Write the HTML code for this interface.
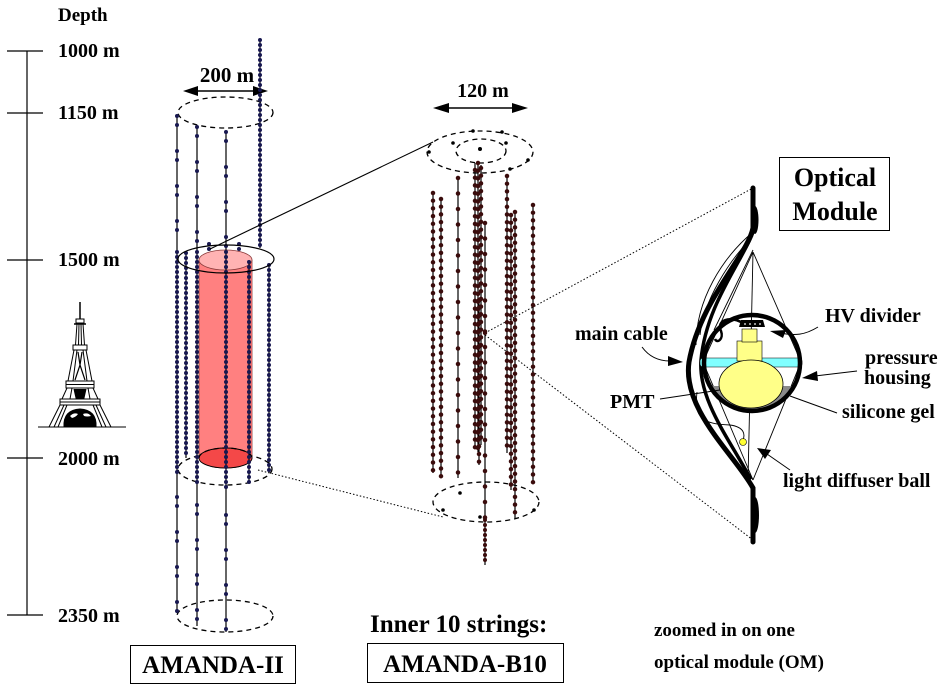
<!DOCTYPE html>
<html><head><meta charset="utf-8"><style>
html,body{margin:0;padding:0;background:#fff;}
svg{display:block;}
text{font-family:"Liberation Serif",serif;font-weight:bold;fill:#000;}
.ln{stroke:#000;stroke-width:1.2;fill:none;}
.d2{stroke:#181850;stroke-width:4;stroke-linecap:round;stroke-dasharray:0 5;fill:none;}
.p2{stroke:#181850;stroke-width:4;stroke-linecap:round;stroke-dasharray:0 9 0 26;fill:none;}
.db{stroke:#3a0c0c;stroke-width:4.5;stroke-linecap:round;stroke-dasharray:0 7.7;fill:none;}
.ds{stroke:#3a0c0c;stroke-width:4.5;stroke-linecap:round;stroke-dasharray:0 15.5;fill:none;}
.dash{stroke:#000;stroke-width:1.3;fill:none;stroke-dasharray:5 4;}
.dot{stroke:#000;stroke-width:1;fill:none;stroke-dasharray:1.5 2;}
.th{stroke:#000;stroke-width:0.9;fill:none;}
</style></head><body>
<svg width="948" height="691" viewBox="0 0 948 691" xmlns="http://www.w3.org/2000/svg">
<rect width="948" height="691" fill="#fff"/>

<!-- Depth scale -->
<text x="58" y="21" font-size="19">Depth</text>
<line x1="27" y1="51" x2="27" y2="615" stroke="#000" stroke-width="1.2"/>
<g stroke="#000" stroke-width="1.2">
<line x1="7" y1="51" x2="43" y2="51"/>
<line x1="7" y1="113" x2="43" y2="113"/>
<line x1="7" y1="260" x2="43" y2="260"/>
<line x1="7" y1="458" x2="43" y2="458"/>
<line x1="7" y1="615" x2="43" y2="615"/>
</g>
<g font-size="20">
<text x="58" y="57">1000 m</text>
<text x="58" y="119">1150 m</text>
<text x="58" y="266">1500 m</text>
<text x="58" y="465">2000 m</text>
<text x="58" y="622">2350 m</text>
</g>

<!-- Eiffel tower -->
<g stroke="#000" fill="none" stroke-width="1">
<line x1="38" y1="427" x2="126" y2="427"/>
<line x1="80" y1="302" x2="80" y2="320" stroke-width="1.5"/>
<rect x="76" y="319" width="8" height="4" fill="#fff"/>
<line x1="74" y1="324" x2="86" y2="324" stroke-width="1.5"/>
<path d="M77 324 L75.5 345 M83 324 L84.5 345 M79 324 L78.5 345 M81 324 L81.5 345"/>
<rect x="73" y="345" width="14" height="5" fill="#fff"/>
<path d="M74 350 L68 381 M86 350 L92 381 M77 350 L73 381 M83 350 L87 381"/>
<path d="M78 352 L80 365 L82 352 M80 365 L75 380 M80 365 L85 380" stroke-width="1.2"/>
<rect x="66" y="381" width="28" height="7" fill="#fff"/>
<line x1="66" y1="384.5" x2="94" y2="384.5"/>
<path d="M67 388 L62 399 M93 388 L98 399 M72 388 L70 399 M88 388 L90 399"/>
<path d="M74 389 L76 398 L84 398 L86 389" fill="#000"/>
<rect x="60" y="399" width="40" height="6" fill="#fff"/>
<line x1="60" y1="402" x2="100" y2="402"/>
<path d="M60 405 L49 427 M100 405 L111 427 M64 405 L54 427 M96 405 L106 427 M67 405 L58 427 M93 405 L102 427"/>
<path d="M64 427 Q63 410 80 409 Q97 410 96 427 Z" fill="#000"/>
<path d="M70 416 Q74 412 78 414 Q76 417 72 418 Z M83 414 Q88 412 91 416 Q87 417 84 416 Z" fill="#fff" stroke="none"/>
</g>

<!-- AMANDA-II -->
<text x="227" y="82" font-size="21" text-anchor="middle">200 m</text>
<line x1="195" y1="91" x2="256" y2="91" stroke="#000" stroke-width="1.5"/>
<path d="M183 91 L198 86 L198 96 Z M268 91 L253 86 L253 96 Z" fill="#000"/>
<ellipse cx="225.5" cy="112.5" rx="47.5" ry="15.5" class="dash"/>
<ellipse cx="225" cy="469" rx="47" ry="16" class="dash"/>
<ellipse cx="225" cy="616" rx="48" ry="16" class="dash"/>

<!-- cylinder -->
<path d="M199 260 L199 458 A26.5 10 0 0 0 252 458 L252 260 Z" fill="#ff8080" stroke="#8b3a3a" stroke-width="0.8"/>
<rect x="247" y="260" width="5" height="198" fill="#e86a6a"/>
<ellipse cx="225.5" cy="458" rx="26.5" ry="10" fill="#f44848" stroke="#000" stroke-width="0.9"/>
<path d="M199 458 A26.5 10 0 0 1 252 458" class="dash" stroke-width="1"/>
<ellipse cx="225.5" cy="260" rx="26.5" ry="10" fill="#ffb3b3" stroke="#8b3a3a" stroke-width="0.8"/>

<!-- strings AMANDA-II -->
<g class="ln">
<line x1="177" y1="115" x2="177" y2="613"/>
<line x1="197" y1="126" x2="197" y2="626"/>
<line x1="226" y1="131" x2="226" y2="632"/>
<line x1="260" y1="40" x2="260" y2="248"/>
<line x1="186" y1="253" x2="186" y2="458"/>
<line x1="249" y1="262" x2="249" y2="483"/>
<line x1="269" y1="265" x2="269" y2="473"/>
</g>
<path class="p2" d="M177 116 V250 M197 127 V250 M226 132 V250"/>
<path class="p2" d="M177 497 V613 M197 505 V626 M226 515 V632"/>
<path class="d2" d="M177 252 V473 M197 252 V483 M226 252 V488 M260 40 V248 M186 253 V458 M249 262 V483 M269 265 V473 M209 244 V250 M239 244 V250"/>
<ellipse cx="226" cy="259" rx="48" ry="14" fill="none" stroke="#000" stroke-width="1.2"/>

<rect x="130.5" y="645.5" width="165" height="38" fill="none" stroke="#000" stroke-width="1"/>
<text x="213" y="673" font-size="25" text-anchor="middle">AMANDA-II</text>

<!-- connectors -->
<line x1="210" y1="249" x2="433" y2="142" stroke="#000" stroke-width="1.1"/>
<line x1="258" y1="470" x2="443" y2="517" class="dot"/>
<line x1="485" y1="333" x2="753" y2="188" class="dot"/>
<line x1="485" y1="335" x2="753" y2="540" class="dot"/>

<!-- AMANDA-B10 -->
<text x="483" y="97" font-size="20" text-anchor="middle">120 m</text>
<line x1="445" y1="108" x2="516" y2="108" stroke="#000" stroke-width="1.5"/>
<path d="M433 108 L449 103 L449 113 Z M528 108 L512 103 L512 113 Z" fill="#000"/>
<ellipse cx="480" cy="152" rx="53" ry="21" class="dash"/>
<ellipse cx="481" cy="151" rx="25" ry="12" class="dash"/>
<ellipse cx="486" cy="502" rx="53" ry="20" class="dash"/>
<g fill="#000">
<circle cx="480" cy="149" r="2"/><circle cx="429" cy="152" r="1.8"/><circle cx="473" cy="131" r="1.8"/>
<circle cx="502" cy="132" r="1.8"/><circle cx="528" cy="160" r="1.8"/><circle cx="510" cy="169" r="1.8"/>
<circle cx="453" cy="143" r="1.8"/><circle cx="506" cy="143" r="1.8"/><circle cx="460" cy="493" r="1.8"/>
<circle cx="480" cy="517" r="1.8"/><circle cx="534" cy="510" r="1.8"/><circle cx="443" cy="510" r="1.8"/>
</g>
<g class="ln">
<line x1="433" y1="193" x2="433" y2="473"/>
<line x1="441" y1="199" x2="441" y2="477"/>
<line x1="458" y1="178" x2="458" y2="478"/>
<line x1="475" y1="163" x2="475" y2="448"/>
<line x1="478" y1="163" x2="478" y2="452"/>
<line x1="481" y1="165" x2="481" y2="445"/>
<line x1="479" y1="300" x2="479" y2="465"/>
<line x1="485" y1="223" x2="485" y2="565"/>
<line x1="507" y1="176" x2="507" y2="453"/>
<line x1="511" y1="215" x2="511" y2="490"/>
<line x1="515" y1="212" x2="515" y2="518"/>
<line x1="533" y1="205" x2="533" y2="483"/>
</g>
<path class="db" d="M433 193 V473 M441 199 V477 M475 170 V448 M478 163 V452 M481 168 V445 M479 300 V465 M507 176 V453 M511 215 V490 M515 212 V518 M533 205 V483"/>
<path class="ds" d="M458 178 V478 M485 223 V520"/>
<path class="d2" style="stroke:#3a0c0c" d="M485 520 V565"/>
<circle cx="485" cy="333" r="2.2" fill="#3a0c0c"/>

<text x="370" y="632" font-size="25">Inner 10 strings:</text>
<rect x="367.5" y="643.5" width="196" height="39" fill="none" stroke="#000" stroke-width="1"/>
<text x="465" y="672" font-size="25" text-anchor="middle">AMANDA-B10</text>

<text x="654" y="636" font-size="19">zoomed in on one</text>
<text x="654" y="668" font-size="19">optical module (OM)</text>

<!-- Optical Module -->
<rect x="779.5" y="157.5" width="110" height="73" fill="#fff" stroke="#000" stroke-width="1"/>
<text x="835" y="186" font-size="26" text-anchor="middle">Optical</text>
<text x="835" y="220" font-size="26" text-anchor="middle">Module</text>

<!-- thin wires -->
<g class="th">
<path d="M753 252 L703 362 L753 480"/>
<path d="M753 252 L801 362 L753 480"/>
<path d="M753 252 L748 480"/>
<path d="M753 250 L714 330"/>
<path d="M753 236 C 728 262, 704 300, 700 335"/>
<path d="M753 232 C 722 258, 696 300, 696 345"/>
<path d="M697 392 C 694 418, 702 424, 730 425 C 745 427, 745 435, 743 440"/>
<path d="M700 370 C 705 410, 730 440, 753 480"/>
</g>

<!-- thick cable -->
<g fill="none" stroke="#000" stroke-linecap="round">
<path d="M753 188 L753 228 C 748 255, 700 300, 689 362 C 682 410, 735 455, 753 488 L753 542" stroke-width="5"/>
<path d="M753 232 C 742 262, 706 305, 701 360 C 698 400, 730 440, 750 478" stroke-width="3.5"/>
</g>
<ellipse cx="755" cy="220" rx="3.5" ry="14" fill="#000"/>
<ellipse cx="755" cy="515" rx="4" ry="18" fill="#000"/>

<!-- sphere contents -->
<path d="M712 386 L792 386 A46 46 0 0 1 712 386 Z" fill="#8a8a8a"/>
<rect x="700" y="358" width="102" height="9" rx="3" fill="#80ffff" stroke="#000" stroke-width="0.6"/>
<rect x="737" y="341" width="25" height="20" fill="#ffff88" stroke="#000" stroke-width="0.6"/>
<rect x="742" y="329" width="15" height="13" fill="#ffff88" stroke="#000" stroke-width="0.6"/>
<ellipse cx="751" cy="384" rx="32" ry="24" fill="#ffff88" stroke="#000" stroke-width="0.8"/>
<path d="M741 320 L763 320 L765 327 L739 327 Z" fill="#000"/>
<g fill="#fff"><circle cx="745" cy="324" r="0.9"/><circle cx="750" cy="324" r="0.9"/><circle cx="755" cy="324" r="0.9"/><circle cx="760" cy="324" r="0.9"/></g>
<path d="M741 322 C 730 316, 716 320, 721 331 C 724 339, 717 344, 715 339" fill="none" stroke="#000" stroke-width="2.5"/>
<circle cx="752" cy="363" r="48" fill="none" stroke="#000" stroke-width="4.5"/>
<circle cx="743" cy="442" r="3.5" fill="#ffff33" stroke="#000" stroke-width="0.6"/>

<!-- OM labels -->
<g font-size="20">
<text x="825" y="322">HV divider</text>
<text x="575" y="340">main cable</text>
<text x="865" y="364">pressure</text>
<text x="864" y="384">housing</text>
<text x="610" y="408">PMT</text>
<text x="842" y="418">silicone gel</text>
<text x="783" y="487">light diffuser ball</text>
</g>
<g fill="none" stroke="#000" stroke-width="1">
<path d="M818 327 C 805 335, 795 336, 780 333"/>
<path d="M642 347 C 650 358, 660 361, 670 361"/>
<line x1="857" y1="371" x2="815" y2="376"/>
<line x1="660" y1="399" x2="720" y2="390"/>
<line x1="837" y1="413" x2="790" y2="396"/>
<line x1="790" y1="470" x2="767" y2="454"/>
</g>
<g fill="#000">
<path d="M770 331 L786 330 L783 338 Z"/>
<path d="M683 362 L668 356 L668 366 Z"/>
<path d="M802 378 L817 371 L818 381 Z"/>
<path d="M757 448 L771 450 L765 459 Z"/>
</g>
</svg>
</body></html>
